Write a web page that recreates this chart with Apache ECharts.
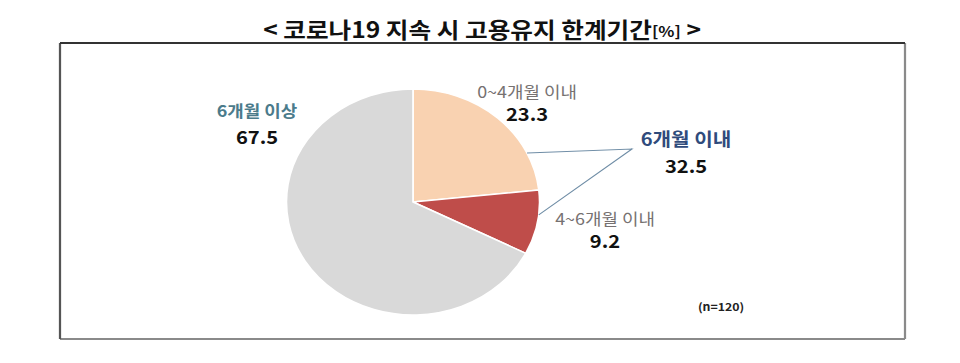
<!DOCTYPE html>
<html>
<head>
<meta charset="utf-8">
<script src="https://cdn.jsdelivr.net/npm/echarts@6/dist/echarts.min.js"></script>
<style>
html,body{margin:0;padding:0;background:#fff;overflow:hidden;}
#wrap{width:960px;height:363px;overflow:hidden;}
#chart{width:857px;height:363px;transform:scaleX(1.12);transform-origin:0 0;}
</style>
</head>
<body>
<div id="wrap"><div id="chart"></div></div>
<script>
// ---- data ----
const titleText = '< 코로나19 지속 시 고용유지 한계기간';
const titleUnit = '[%]';
const categories = ['0~4개월 이내', '4~6개월 이내', '6개월 이상'];
const values = [23.3, 9.2, 67.5];
const groupName = '6개월 이내';
const groupMembers = [0, 1];
const sampleNote = '(n=120)';

// ---- layout / style ----
const S = 1.12;               // horizontal stretch of the reference
const X = v => v / S;          // real x -> chart x
const FONT = '"Noto Sans CJK KR", "Noto Sans", sans-serif';
const colors = ['#F9D2B1', '#BF4D4A', '#D9D9D9'];
const cx = 413, cy = 202, R = 113;
const labelStyles = [
  {x: 527, y: 102, color: '#767171', weight: 'normal', gap: 23},
  {x: 605, y: 229, color: '#767171', weight: 'normal', gap: 23},
  {x: 257, y: 123, color: '#4B7B8B', weight: 'bold', gap: 27}
];
const leaderAngles = [25.7, -6.5];
const junction = [632, 149];

const groupValue = Math.round(groupMembers.reduce((a, i) => a + values[i], 0) * 10) / 10;

const chart = echarts.init(document.getElementById('chart'), null, {renderer: 'svg'});

const data = categories.map((c, i) => ({
  name: c,
  value: values[i],
  itemStyle: {color: colors[i]},
  label: {
    rich: {
      n: {fontFamily: FONT, fontSize: 16, color: labelStyles[i].color, fontWeight: labelStyles[i].weight, lineHeight: labelStyles[i].gap},
      v: {fontFamily: FONT, fontSize: 18, color: '#111', fontWeight: 'bold', lineHeight: labelStyles[i].gap}
    }
  }
}));

const rimPoint = a => {
  const r = a * Math.PI / 180;
  return [X(cx) + R * Math.cos(r), cy - R * Math.sin(r)];
};

const boxL = X(60), boxR = X(905), boxT = 43, boxB = 339;

chart.setOption({
  animation: false,
  backgroundColor: '#fff',
  graphic: [
    {type: 'line', shape: {x1: boxR, y1: boxT, x2: boxR, y2: boxB}, style: {stroke: '#8a8a8a', lineWidth: 2}},
    {type: 'line', shape: {x1: boxL, y1: boxB, x2: boxR, y2: boxB}, style: {stroke: '#8a8a8a', lineWidth: 2}},
    {type: 'line', shape: {x1: boxL, y1: boxT, x2: boxL, y2: boxB}, style: {stroke: '#555', lineWidth: 2}},
    {type: 'line', shape: {x1: boxL, y1: boxT, x2: boxR, y2: boxT}, style: {stroke: '#333', lineWidth: 2}},
    {
      type: 'text', x: X(482), y: 29,
      style: {
        text: '{t|' + titleText + '}{u|' + titleUnit + '}{t| >}',
        align: 'center', verticalAlign: 'middle',
        rich: {
          t: {fontFamily: FONT, fontSize: 22, fontWeight: 'bold', fill: '#111'},
          u: {fontFamily: FONT, fontSize: 15, fontWeight: 'bold', fill: '#111', padding: [4, 0, 0, 0]}
        }
      }
    },
    {
      type: 'polyline', z: 10,
      shape: {points: [rimPoint(leaderAngles[0]), [X(junction[0]), junction[1]], rimPoint(leaderAngles[1])]},
      style: {stroke: '#6F8DA6', lineWidth: 1, fill: null}
    },
    {
      type: 'text', x: X(686), y: 151.5,
      style: {
        text: '{n|' + groupName + '}\n{v|' + groupValue.toFixed(1) + '}',
        align: 'center', verticalAlign: 'middle',
        rich: {
          n: {fontFamily: FONT, fontSize: 18, fontWeight: 'bold', fill: '#2F4B7C', lineHeight: 27},
          v: {fontFamily: FONT, fontSize: 18, fontWeight: 'bold', fill: '#111', lineHeight: 27}
        }
      }
    },
    {
      type: 'text', x: X(721), y: 306,
      style: {text: sampleNote, align: 'center', verticalAlign: 'middle', fontFamily: FONT, fontSize: 11, fontWeight: 'bold', fill: '#222'}
    }
  ],
  series: [{
    type: 'pie',
    center: [X(cx), cy],
    radius: R,
    startAngle: 90,
    clockwise: true,
    silent: true,
    itemStyle: {borderColor: '#fff', borderWidth: 1.5},
    label: {
      show: true,
      position: 'outside',
      formatter: p => '{n|' + p.name + '}\n{v|' + p.value.toFixed(1) + '}'
    },
    labelLine: {show: false},
    labelLayout: p => {
      const s = labelStyles[p.dataIndex];
      return {x: X(s.x), y: s.y, align: 'center', verticalAlign: 'middle'};
    },
    data: data
  }]
});
</script>
</body>
</html>
